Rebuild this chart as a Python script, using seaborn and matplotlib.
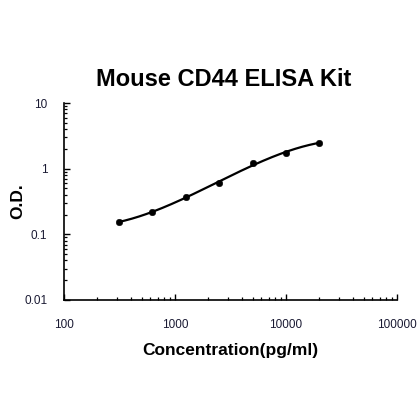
import matplotlib
matplotlib.use("Agg")
import matplotlib.pyplot as plt
import matplotlib.ticker as mticker
import numpy as np
import pandas as pd
import seaborn as sns

# standard curve readings
conc = [312.5, 625, 1250, 2500, 5000, 10000, 20000]
od = [0.154, 0.221, 0.367, 0.607, 1.20, 1.73, 2.50]
x_ticks = [100, 1000, 10000, 100000]
y_ticks = [0.01, 0.1, 1, 10]

df = pd.DataFrame({"conc": conc, "od": od})

# cubic fit in log-log space for the trend line
coef = np.polyfit(np.log10(df["conc"]), np.log10(df["od"]), 3)
lx = np.linspace(np.log10(conc[0]), np.log10(conc[-1]), 200)
fit = pd.DataFrame({"conc": 10 ** lx, "od": 10 ** np.polyval(coef, lx)})

sns.set_style("ticks")
plt.rcParams["font.family"] = ["Liberation Sans", "DejaVu Sans"]
plt.rcParams["text.color"] = "black"
plt.rcParams["axes.labelcolor"] = "black"

fig = plt.figure(figsize=(4.2, 4.2), dpi=100)
ax = fig.add_axes([64 / 420, 1 - 300 / 420, 333 / 420, 197 / 420])

sns.lineplot(data=fit, x="conc", y="od", ax=ax, color="black", linewidth=1.6)
sns.scatterplot(data=df, x="conc", y="od", ax=ax, color="black", s=22, edgecolor="black", zorder=3)

ax.set_xscale("log")
ax.set_yscale("log")
ax.set_xlim(100, 100000)
ax.set_ylim(0.01, 10)
ax.set_xticks(x_ticks)
ax.set_yticks(y_ticks)
ax.xaxis.set_major_formatter(mticker.FuncFormatter(lambda v, p: f"{v:g}"))
ax.yaxis.set_major_formatter(mticker.FuncFormatter(lambda v, p: f"{v:g}"))
ax.xaxis.set_minor_locator(mticker.LogLocator(base=10, subs=np.arange(2, 10)))
ax.yaxis.set_minor_locator(mticker.LogLocator(base=10, subs=np.arange(2, 10)))
ax.xaxis.set_minor_formatter(mticker.NullFormatter())
ax.yaxis.set_minor_formatter(mticker.NullFormatter())
ax.tick_params(which="both", direction="in", color="black", labelsize=8.5, labelcolor="#1a1a33",
               bottom=True, left=True)
ax.tick_params(which="major", length=4, width=1)
ax.tick_params(which="minor", length=2.5, width=0.9)
ax.tick_params(axis="x", which="major", pad=14)
ax.tick_params(axis="y", which="major", pad=12)

sns.despine(ax=ax)
for s in ["left", "bottom"]:
    ax.spines[s].set_color("black")
    ax.spines[s].set_linewidth(1.2)

ax.set_xlabel("Concentration(pg/ml)", fontsize=12.5, fontweight="bold", labelpad=8)
ax.set_ylabel("O.D.", fontsize=12.5, fontweight="bold", va="center")
ax.yaxis.set_label_coords(-0.138, 0.5)
fig.text(224 / 420, 1 - 80 / 420, "Mouse CD44 ELISA Kit", fontsize=17, fontweight="bold",
         ha="center", va="center")

fig.savefig("out.png", dpi=100)
